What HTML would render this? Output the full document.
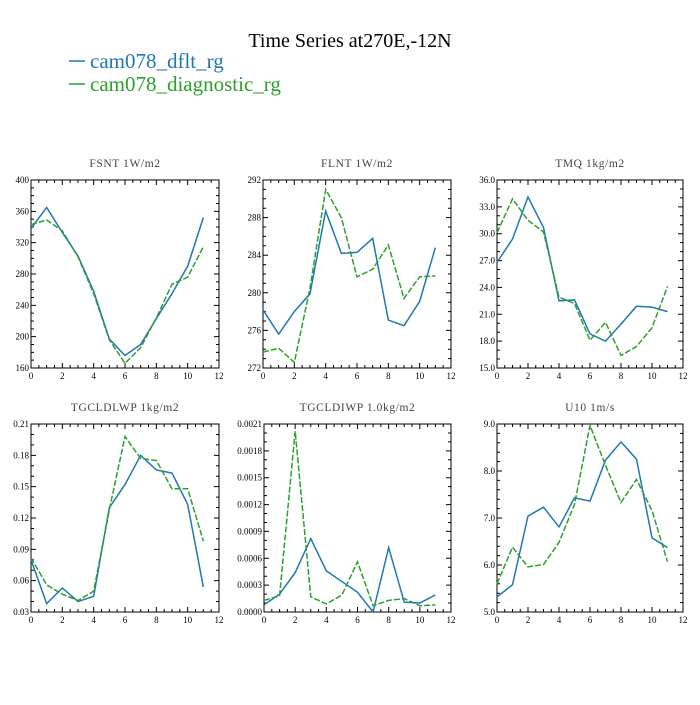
<!DOCTYPE html>
<html><head><meta charset="utf-8"><style>
body{margin:0;background:#fff;width:700px;height:700px;overflow:hidden}
svg text{font-family:"Liberation Serif",serif}
</style></head><body>
<svg id="chart" width="700" height="700" xmlns="http://www.w3.org/2000/svg">
<text x="350" y="47" font-size="20" text-anchor="middle">Time Series at270E,-12N</text>
<g>
<line x1="69" y1="61" x2="85" y2="61" stroke="#1f77b4" stroke-width="1.5"/>
<text x="90" y="68" font-size="21" fill="#1f77b4">cam078_dflt_rg</text>
<line x1="69" y1="84" x2="85" y2="84" stroke="#2ca02c" stroke-width="1.5"/>
<text x="90" y="91" font-size="21" fill="#2ca02c">cam078_diagnostic_rg</text>
</g>
</svg>
<script>
const months=[0,1,2,3,4,5,6,7,8,9,10,11];
const xTicks=[0,2,4,6,8,10,12];
const fsntBlue=[338,365,333,303,258,197,176,190,223,255,290,352];
const fsntGreen=[343,349,335,302,255,196,166,186,224,267,276,315];
const fsntTicks=["160","200","240","280","320","360","400"];
const flntBlue=[278.2,275.6,278,279.9,288.7,284.2,284.3,285.8,277.1,276.5,279.1,284.8];
const flntGreen=[273.7,274.1,272.6,280.5,291,288,281.7,282.5,285.1,279.4,281.7,281.8];
const flntTicks=["272","276","280","284","288","292"];
const tmqBlue=[26.8,29.4,34.1,30.7,22.5,22.6,18.8,18.0,19.9,21.9,21.8,21.3];
const tmqGreen=[30.1,33.9,31.5,30.2,22.9,22.2,18.1,20.1,16.4,17.4,19.5,24.1];
const tmqTicks=["15.0","18.0","21.0","24.0","27.0","30.0","33.0","36.0"];
const lwpBlue=[0.080,0.038,0.053,0.040,0.045,0.130,0.152,0.180,0.166,0.163,0.133,0.054];
const lwpGreen=[0.082,0.056,0.047,0.041,0.050,0.128,0.198,0.177,0.175,0.148,0.148,0.098];
const lwpTicks=["0.03","0.06","0.09","0.12","0.15","0.18","0.21"];
const iwpBlue=[0.00008,0.0002,0.00044,0.00082,0.00046,0.00034,0.00022,0.0,0.00072,0.00011,0.0001,0.00019];
const iwpGreen=[0.00013,0.00018,0.00202,0.00017,0.00009,0.00019,0.00056,0.00007,0.00013,0.00015,0.00007,0.00008];
const iwpTicks=["0.0000","0.0003","0.0006","0.0009","0.0012","0.0015","0.0018","0.0021"];
const u10Blue=[5.32,5.58,7.04,7.23,6.81,7.43,7.36,8.23,8.62,8.25,6.58,6.37];
const u10Green=[5.6,6.38,5.96,6.01,6.48,7.29,8.97,8.12,7.33,7.82,7.16,6.07];
const u10Ticks=["5.0","6.0","7.0","8.0","9.0"];

const NS="http://www.w3.org/2000/svg";
const svg=document.getElementById('chart');
function mk(tag,attrs,parent){const e=document.createElementNS(NS,tag);for(const k in attrs)e.setAttribute(k,attrs[k]);parent.appendChild(e);return e;}
const panels=[
 {id:'fsnt',title:'FSNT   1W/m2',x0:31,x1:219,y0:180,y1:368,blue:fsntBlue,green:fsntGreen,ticks:fsntTicks,minor:4},
 {id:'flnt',title:'FLNT   1W/m2',x0:263,x1:451,y0:180,y1:368,blue:flntBlue,green:flntGreen,ticks:flntTicks,minor:4},
 {id:'tmq',title:'TMQ   1kg/m2',x0:497,x1:683,y0:180,y1:368,blue:tmqBlue,green:tmqGreen,ticks:tmqTicks,minor:3},
 {id:'tgcldlwp',title:'TGCLDLWP   1kg/m2',x0:31,x1:219,y0:424,y1:612,blue:lwpBlue,green:lwpGreen,ticks:lwpTicks,minor:3},
 {id:'tgcldiwp',title:'TGCLDIWP   1.0kg/m2',x0:264,x1:451,y0:424,y1:612,blue:iwpBlue,green:iwpGreen,ticks:iwpTicks,minor:3},
 {id:'u10',title:'U10   1m/s',x0:497,x1:683,y0:424,y1:612,blue:u10Blue,green:u10Green,ticks:u10Ticks,minor:5}
];
panels.forEach(p=>{
 const g=mk('g',{},svg);
 
 
 const ymin=parseFloat(p.ticks[0]),ymax=parseFloat(p.ticks[p.ticks.length-1]);
 const sx=v=>p.x0+(v-0)/12*(p.x1-p.x0);
 const sy=v=>p.y1-(v-ymin)/(ymax-ymin)*(p.y1-p.y0);
 const t=mk('text',{x:(p.x0+p.x1)/2,y:p.y0-13,'font-size':11.5,'text-anchor':'middle',fill:'#444','font-family':'DejaVu Sans, sans-serif','letter-spacing':'0.6','xml:space':'preserve'},g);
 
 
 t.textContent=p.title;
 const fr=mk('rect',{x:p.x0,y:p.y0,width:p.x1-p.x0,height:p.y1-p.y0,fill:'none',stroke:'#000','stroke-width':1},g);
 
 
 let d='';
 for(let i=0;i<=24;i++){const v=i*0.5,x=sx(v),L=(i%4==0)?5:3;d+=`M${x},${p.y1}v${-L}M${x},${p.y0}v${L}`;}
 xTicks.forEach(v=>{const tx=mk('text',{x:sx(v),y:p.y1+11,'font-size':9,'text-anchor':'middle'},g);
  
  
  tx.textContent=v;});
 const n=p.ticks.length-1,step=(ymax-ymin)/n;
 for(let i=0;i<=n*p.minor;i++){const v=ymin+i*step/p.minor,y=sy(v),L=(i%p.minor==0)?5:3;d+=`M${p.x0},${y}h${L}M${p.x1},${y}h${-L}`;}
 p.ticks.forEach(s=>{const ty=mk('text',{x:p.x0-2,y:sy(parseFloat(s))+3,'font-size':9,'text-anchor':'end'},g);
  
  
  ty.textContent=s;});
 const tk=mk('path',{d:d,stroke:'#000','stroke-width':1,fill:'none'},g);
 
 
 const pb=mk('polyline',{points:months.map((m,i)=>sx(m)+','+sy(p.blue[i])).join(' '),fill:'none',stroke:'#1f77b4','stroke-width':1.5},g);
 
 
 const pg=mk('polyline',{points:months.map((m,i)=>sx(m)+','+sy(p.green[i])).join(' '),fill:'none',stroke:'#2ca02c','stroke-width':1.5,'stroke-dasharray':'6,2'},g);
 
 
});
</script>
</body></html>
